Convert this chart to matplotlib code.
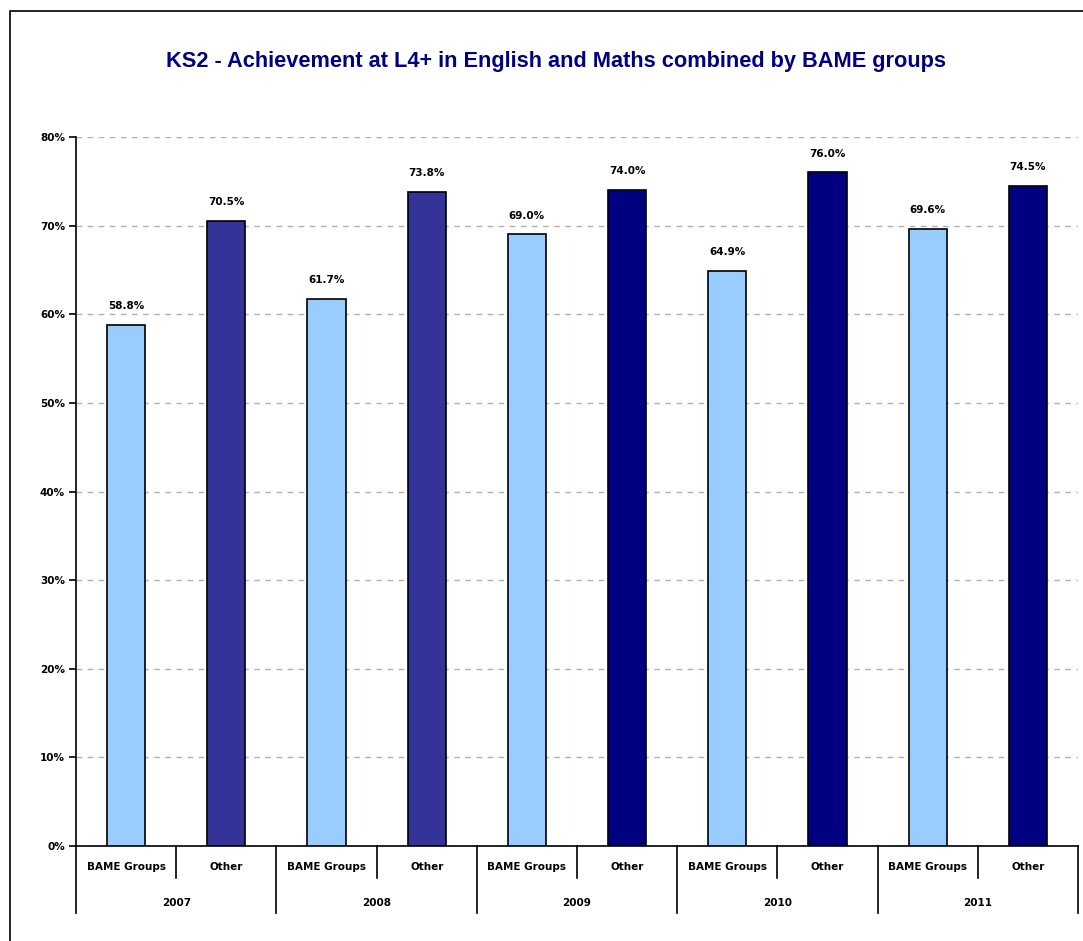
import matplotlib.pyplot as plt
from matplotlib.patches import Rectangle
import numpy as np

years = ["2007", "2008", "2009", "2010", "2011"]
groups = ["BAME Groups", "Other"]
bame = [58.8, 61.7, 69.0, 64.9, 69.6]
other = [70.5, 73.8, 74.0, 76.0, 74.5]
other_colors = ["#333399", "#333399", "#000080", "#000080", "#000080"]
bame_color = "#99ccff"

fig = plt.figure(figsize=(10.83, 9.41), dpi=100)
fig.patches.append(Rectangle((10 / 1083, -0.05), 1.2, 0.05 + 1 - 11 / 941,
                             transform=fig.transFigure, fill=False,
                             edgecolor="black", linewidth=1.2))
ax = fig.add_axes([76 / 1083, 1 - 846 / 941, 1002 / 1083, 709 / 941])

vals = []
cols = []
for i in range(len(years)):
    vals += [bame[i], other[i]]
    cols += [bame_color, other_colors[i]]
x = np.arange(len(vals))

ax.bar(x, vals, width=0.38, color=cols, edgecolor="black", linewidth=1.2, zorder=3)
for xi, v in zip(x, vals):
    ax.annotate(f"{v:.1f}%", (xi, v), xytext=(0, 10), textcoords="offset points",
                ha="center", va="bottom", fontsize=7.5, fontweight="bold")

ax.set_xlim(-0.5, len(vals) - 0.5)
ax.set_ylim(0, 80)
ax.set_yticks(np.arange(0, 81, 10))
ax.set_yticklabels([f"{t}%" for t in range(0, 81, 10)], fontsize=7.5, fontweight="bold")
ax.yaxis.grid(True, linestyle=(0, (4, 4)), color="#b0b0b0", linewidth=1, zorder=0)
ax.tick_params(axis="y", length=5, width=1.2, pad=3)
ax.set_xticks([])
for s in ["top", "right"]:
    ax.spines[s].set_visible(False)
ax.spines["left"].set_linewidth(1.2)
ax.spines["bottom"].set_linewidth(1.2)

# two-level category axis
tr = ax.get_xaxis_transform()
for k in range(len(vals) + 1):
    depth = -0.095 if k % 2 == 0 else -0.045
    ax.plot([k - 0.5, k - 0.5], [0, depth], transform=tr, color="black",
            linewidth=1.2, clip_on=False)
for xi in x:
    ax.text(xi, -0.03, groups[xi % 2], transform=tr, ha="center", va="center",
            fontsize=7.5, fontweight="bold")
for i, yr in enumerate(years):
    ax.text(2 * i + 0.5, -0.08, yr, transform=tr, ha="center", va="center",
            fontsize=7.5, fontweight="bold")

fig.text(0.513, 1 - 61 / 941, "KS2 - Achievement at L4+ in English and Maths combined by BAME groups",
         ha="center", va="center", fontsize=15.7, fontweight="bold", color="#000080",
         family="Liberation Sans")

fig.savefig("out.png", dpi=100)
